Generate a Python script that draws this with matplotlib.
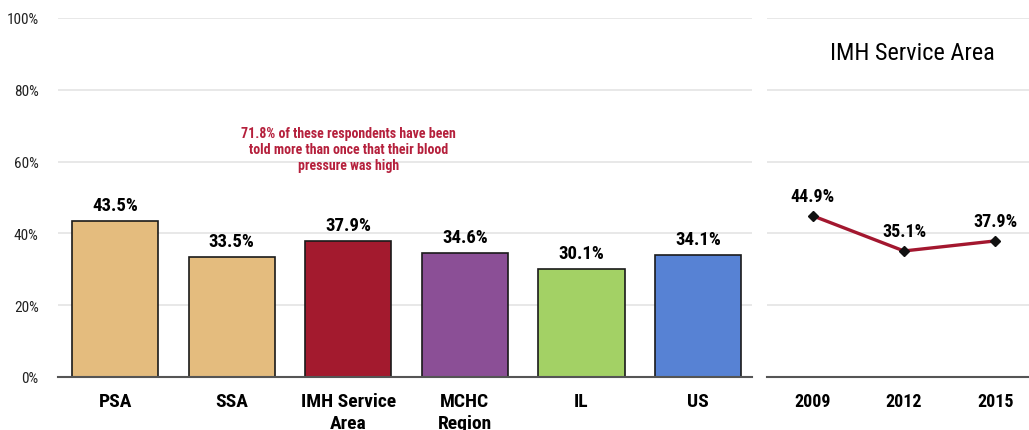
import matplotlib
matplotlib.use("Agg")
from matplotlib import pyplot as plt
from matplotlib import font_manager
from matplotlib.ticker import FuncFormatter

# areas compared in the bar panel
areas = ["PSA", "SSA", "IMH Service\nArea", "MCHC\nRegion", "IL", "US"]
area_values = [43.5, 33.5, 37.9, 34.6, 30.1, 34.1]
area_colors = ["#E4BC7E", "#E4BC7E", "#A31A2E", "#8B4F96", "#A3D165", "#5782D4"]

# trend for the service area
years = ["2009", "2012", "2015"]
trend_values = [44.9, 35.1, 37.9]

note = ("71.8% of these respondents have been\n"
        "told more than once that their blood\n"
        "pressure was high")

# narrow sans face, closest available to Arial Narrow
installed = {f.name for f in font_manager.fontManager.ttflist}
family = next(n for n in ["Liberation Sans Narrow", "Roboto Condensed",
                          "Archivo Narrow", "Liberation Sans"] if n in installed)
plt.rcParams["font.family"] = [family, "DejaVu Sans"]

fig = plt.figure(figsize=(10.29, 4.31), dpi=100)
ax = fig.add_axes([0.0564, 0.123, 0.674, 0.833])
ax2 = fig.add_axes([0.7454, 0.123, 0.2546, 0.833])

grid_color = "#E4E4E4"
axis_color = "#555555"

# bar panel
x = range(len(areas))
bars = ax.bar(x, area_values, width=0.74, color=area_colors,
              edgecolor="#1A1A1A", linewidth=1.2, zorder=3)
for bar, v in zip(bars, area_values):
    ax.annotate(f"{v:.1f}%", (bar.get_x() + bar.get_width() / 2, v),
                xytext=(0, 5), textcoords="offset points",
                ha="center", va="bottom", fontsize=13.5, fontweight="bold")

ax.text(2, 63.5, note, ha="center", va="center", fontsize=10,
        fontweight="bold", color="#B5203C", linespacing=1.2)

ax.set_xlim(-0.49, 5.46)
ax.set_ylim(0, 100)
ax.set_yticks([0, 20, 40, 60, 80, 100])
ax.yaxis.set_major_formatter(FuncFormatter(lambda v, p: f"{v:.0f}%"))
ax.set_xticks(list(x))
ax.set_xticklabels(areas, fontsize=14, fontweight="bold", va="top",
                   linespacing=1.25)
ax.tick_params(axis="x", length=0, pad=11)
ax.tick_params(axis="y", length=0, labelsize=11, pad=14, labelcolor="#222222")

# line panel
xs = range(len(years))
ax2.plot(xs, trend_values, color="#A3172F", linewidth=2.4, zorder=3)
ax2.plot(xs, trend_values, linestyle="none", marker="D", markersize=5,
         color="#111111", zorder=4)
for i, v in zip(xs, trend_values):
    ax2.annotate(f"{v:.1f}%", (i, v), xytext=(0, 8), textcoords="offset points",
                 ha="center", va="bottom", fontsize=13, fontweight="bold")

ax2.set_xlim(-0.5, 2.37)
ax2.set_ylim(0, 100)
ax2.set_yticks([0, 20, 40, 60, 80, 100])
ax2.set_yticklabels([])
ax2.set_xticks(list(xs))
ax2.set_xticklabels(years, fontsize=13, fontweight="bold")
ax2.tick_params(axis="x", length=0, pad=11)
ax2.tick_params(axis="y", length=0)
ax2.text(0.555, 0.905, "IMH Service Area", transform=ax2.transAxes,
         ha="center", va="center", fontsize=17.5)

for a in (ax, ax2):
    a.set_axisbelow(True)
    a.yaxis.grid(True, color=grid_color, linewidth=1.2)
    for side in ("top", "right", "left"):
        a.spines[side].set_visible(False)
    a.spines["bottom"].set_color(axis_color)
    a.spines["bottom"].set_linewidth(1.5)
    a.spines["bottom"].set_zorder(5)

fig.savefig("out.png", dpi=100)
